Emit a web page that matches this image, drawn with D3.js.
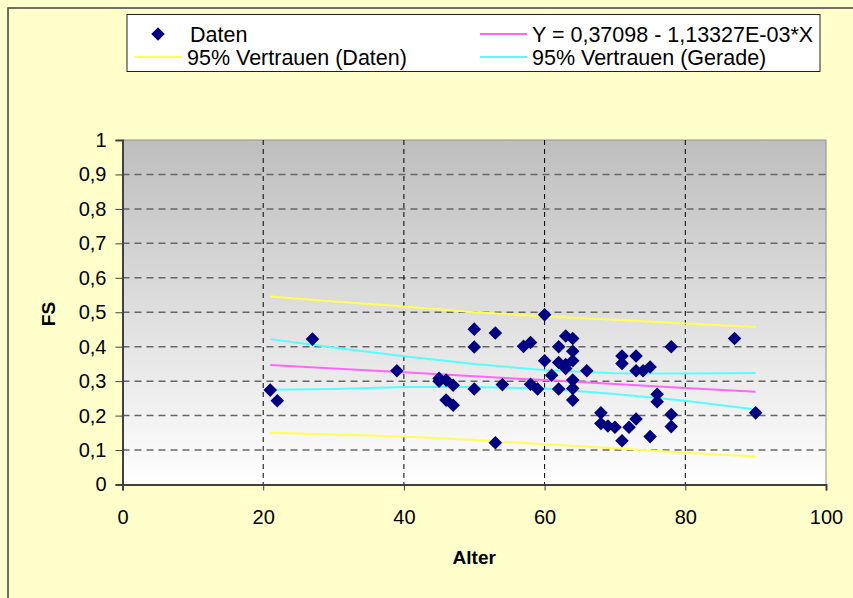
<!DOCTYPE html>
<html>
<head>
<meta charset="utf-8">
<script src="https://cdn.jsdelivr.net/npm/d3@7"></script>
<style>
  body { margin: 0; background: #ffffcc; }
  svg { display: block; font-family: "Liberation Sans", Arial, sans-serif; }
</style>
</head>
<body>
<div id="container"></div>
<script>
// data
var ages = [21, 22, 27, 39, 45, 45, 46, 47, 46, 47, 50, 50, 50, 53, 53, 54, 57, 58, 58, 59,
            60, 60, 61, 62, 62, 62, 63, 63, 63, 64, 64, 64, 64, 64, 64, 66, 68, 68, 69, 70,
            71, 71, 71, 72, 73, 73, 73, 74, 75, 75, 76, 76, 78, 78, 78, 87, 90];
var fs =   [0.274, 0.243, 0.422, 0.330, 0.308, 0.300, 0.303, 0.288, 0.245, 0.230, 0.451, 0.399, 0.277, 0.440, 0.121, 0.290, 0.401, 0.412, 0.291, 0.277,
            0.493, 0.359, 0.317, 0.400, 0.354, 0.277, 0.431, 0.348, 0.337, 0.424, 0.387, 0.359, 0.303, 0.279, 0.245, 0.330, 0.208, 0.177, 0.170, 0.166,
            0.373, 0.351, 0.127, 0.166, 0.373, 0.330, 0.190, 0.330, 0.341, 0.139, 0.262, 0.240, 0.400, 0.203, 0.168, 0.424, 0.208];

var lineX       = [21, 30, 40, 50, 60, 70, 80, 90];
var regY        = [0.347, 0.337, 0.326, 0.314, 0.303, 0.292, 0.280, 0.269];
var yellowUpper = [0.546, 0.531, 0.517, 0.500, 0.488, 0.478, 0.467, 0.457];
var yellowLower = [0.150, 0.145, 0.139, 0.129, 0.117, 0.105, 0.092, 0.081];
var cyanUpper   = [0.422, 0.398, 0.372, 0.350, 0.332, 0.323, 0.322, 0.324];
var cyanLower   = [0.275, 0.277, 0.283, 0.283, 0.279, 0.263, 0.243, 0.218];

var xTicks = [0, 20, 40, 60, 80, 100];
var yTicks = [0, 0.1, 0.2, 0.3, 0.4, 0.5, 0.6, 0.7, 0.8, 0.9, 1];
var legendLabels = ["Daten", "Y = 0,37098 - 1,13327E-03*X", "95% Vertrauen (Daten)", "95% Vertrauen (Gerade)"];

var width = 853, height = 598;
var pLeft = 122.5, pRight = 826, pTop = 140, pBottom = 484.5;

var svg = d3.select("#container").append("svg")
    .attr("width", width)
    .attr("height", height)

// chart background + frame (only left/top visible)
svg.append("rect")
    .attr("x", 8).attr("y", 8)
    .attr("width", 900).attr("height", 700)
    .style("fill", "#ffffcc")
    .style("stroke", "#404040")
    .style("stroke-width", 1.5)

var x = d3.scaleLinear().domain([0, 100]).range([pLeft, pRight])
var y = d3.scaleLinear().domain([0, 1]).range([pBottom, pTop])

var grad = svg.append("defs").append("linearGradient")
    .attr("id", "bg").attr("x1", 0).attr("y1", 0).attr("x2", 0).attr("y2", 1)
grad.append("stop").attr("offset", "0%").attr("stop-color", "#bebebe")
grad.append("stop").attr("offset", "100%").attr("stop-color", "#ffffff")

svg.append("rect")
    .attr("x", pLeft).attr("y", pTop)
    .attr("width", pRight - pLeft).attr("height", pBottom - pTop)
    .style("fill", "url(#bg)")
    .style("stroke", "#909090")
    .style("stroke-width", 1)

// grid
svg.append("g").selectAll("line")
    .data(yTicks.filter(d => d > 0 && d < 1))
    .enter().append("line")
    .attr("x1", pLeft).attr("x2", pRight)
    .attr("y1", d => y(d)).attr("y2", d => y(d))
    .style("stroke", "#666")
    .style("stroke-width", 1.5)
    .style("stroke-dasharray", "7,5")

svg.append("g").selectAll("line")
    .data(xTicks.filter(d => d > 0 && d < 100))
    .enter().append("line")
    .attr("x1", d => x(d)).attr("x2", d => x(d))
    .attr("y1", pTop).attr("y2", pBottom)
    .style("stroke", "#000")
    .style("stroke-width", 1)
    .style("stroke-dasharray", "5,4")

// axes
var xAxis = svg.append("g")
    .attr("transform", "translate(0," + pBottom + ")")
    .call(d3.axisBottom(x).tickValues(xTicks).tickSize(6).tickPadding(19))
var yAxis = svg.append("g")
    .attr("transform", "translate(" + pLeft + ",0)")
    .call(d3.axisLeft(y).tickValues(yTicks).tickSize(7).tickPadding(9)
        .tickFormat(d => String(d).replace(".", ",")))

;[xAxis, yAxis].forEach(function(a) {
    a.select(".domain").style("stroke", "#404040").style("stroke-width", 2)
    a.selectAll(".tick line").style("stroke", "#404040")
    a.selectAll("text").style("font-size", "20px").style("fill", "#000")
        .style("font-family", "'Liberation Sans', Arial, sans-serif")
})

svg.append("text")
    .attr("x", (pLeft + pRight) / 2).attr("y", 564)
    .attr("text-anchor", "middle")
    .style("font-size", "19px").style("font-weight", "bold")
    .text("Alter")

svg.append("text")
    .attr("transform", "translate(55,314) rotate(-90)")
    .attr("text-anchor", "middle")
    .style("font-size", "19px").style("font-weight", "bold")
    .text("FS")

// lines
var line = d3.line()
    .x(d => x(d[0]))
    .y(d => y(d[1]))

var series = [
    { vals: yellowUpper, color: "#ffff55" },
    { vals: yellowLower, color: "#ffff55" },
    { vals: cyanUpper, color: "#55ffff" },
    { vals: cyanLower, color: "#55ffff" },
    { vals: regY, color: "#ff66ff" }
]
svg.append("g").selectAll("path")
    .data(series)
    .enter().append("path")
    .attr("d", d => line(lineX.map((v, i) => [v, d.vals[i]])))
    .style("fill", "none")
    .style("stroke", d => d.color)
    .style("stroke-width", 2)

// points
var diamond = d3.symbol().type(d3.symbolSquare).size(92)
svg.append("g").selectAll("path")
    .data(ages.map((a, i) => [a, fs[i]]))
    .enter().append("path")
    .attr("d", diamond)
    .attr("transform", d => "translate(" + x(d[0]) + "," + y(d[1]) + ") rotate(45)")
    .style("fill", "#000080")

// legend
var legend = svg.append("g")
legend.append("rect")
    .attr("x", 127).attr("y", 14.5)
    .attr("width", 693).attr("height", 57)
    .style("fill", "#fff")
    .style("stroke", "#222")
    .style("stroke-width", 1)

legend.append("path")
    .attr("d", diamond)
    .attr("transform", "translate(158,34) rotate(45)")
    .style("fill", "#000080")

var items = [
    { label: legendLabels[1], x: 480, y: 34, color: "#ff66ff" },
    { label: legendLabels[2], x: 135, y: 57, color: "#ffff55" },
    { label: legendLabels[3], x: 480, y: 57, color: "#55ffff" }
]
legend.selectAll(".li")
    .data(items)
    .enter().append("line")
    .attr("x1", d => d.x).attr("x2", d => d.x + 47)
    .attr("y1", d => d.y).attr("y2", d => d.y)
    .style("stroke", d => d.color)
    .style("stroke-width", 2)

legend.append("text")
    .attr("x", 190).attr("y", 34).attr("dy", "0.35em")
    .style("font-size", "21.5px")
    .text(legendLabels[0])
legend.selectAll(".lt")
    .data(items)
    .enter().append("text")
    .attr("x", d => d.x + 52).attr("y", d => d.y).attr("dy", "0.35em")
    .style("font-size", "21.5px")
    .text(d => d.label)
</script>
</body>
</html>
